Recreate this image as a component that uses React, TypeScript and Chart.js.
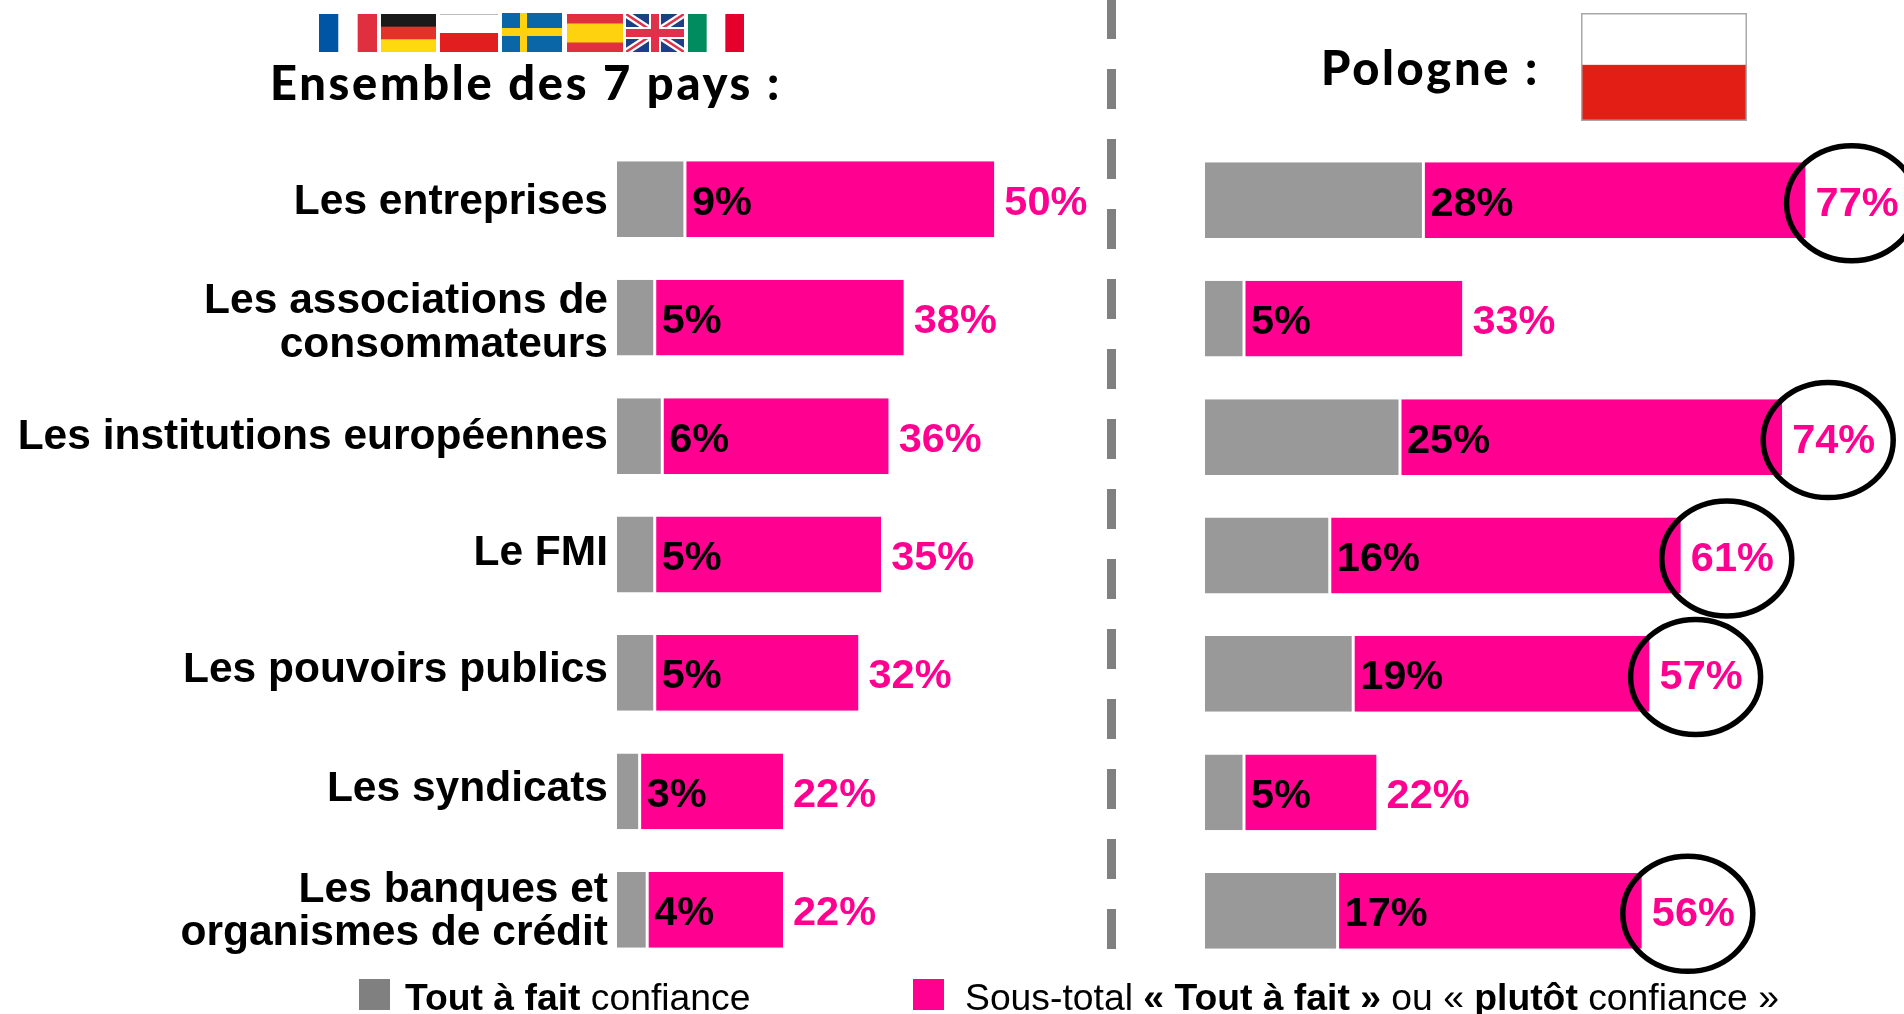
import React, { useEffect, useRef } from "react";
import { Chart, registerables } from "chart.js";

Chart.register(...registerables);

const categories: (string | string[])[] = [
  "Les entreprises",
  ["Les associations de", "consommateurs"],
  "Les institutions européennes",
  "Le FMI",
  "Les pouvoirs publics",
  "Les syndicats",
  ["Les banques et", "organismes de crédit"],
];
const overallTop = [9, 5, 6, 5, 5, 3, 4];
const overallTotal = [50, 38, 36, 35, 32, 22, 22];
const polandTop = [28, 5, 25, 16, 19, 5, 17];
const polandTotal = [77, 33, 74, 61, 57, 22, 56];
const circledPoland = [0, 2, 3, 4, 6];

const GREY = "#999999";
const PINK = "#FF0090";
const FONT = '"Liberation Sans", Arial, sans-serif';
const TITLE_FONT = 'Lato, sans-serif';
const TICK_LABEL_SHIFT = [2.5, 5, 0, -2.5, -3.5, -3.5, 1];

function makeChart(
  canvas: HTMLCanvasElement,
  top: number[],
  total: number[],
  xMax: number,
  withAxis: boolean,
  circled: number[],
  axisWidth: number,
  padTop: number,
  padBottom: number
) {
  const labelsPlugin = {
    id: "valueLabels",
    afterDatasetsDraw(chart: any) {
      const { ctx, scales } = chart;
      ctx.save();
      ctx.font = `bold 41.5px ${FONT}`;
      ctx.textBaseline = "middle";
      ctx.textAlign = "left";
      categories.forEach((_, i) => {
        const y = scales.y.getPixelForValue(i) + 4;
        ctx.fillStyle = "#000";
        ctx.fillText(`${top[i]}%`, scales.x.getPixelForValue(top[i]) + 7, y);
        ctx.fillStyle = PINK;
        ctx.fillText(`${total[i]}%`, scales.x.getPixelForValue(total[i]) + 10, y);
      });
      ctx.strokeStyle = "#000";
      ctx.lineWidth = 5.5;
      circled.forEach((i) => {
        ctx.beginPath();
        ctx.ellipse(
          scales.x.getPixelForValue(total[i]) + 46,
          scales.y.getPixelForValue(i) + 3,
          65,
          57.5,
          0,
          0,
          Math.PI * 2
        );
        ctx.stroke();
      });
      ctx.restore();
    },
  };

  return new Chart(canvas, {
    type: "bar",
    data: {
      labels: categories as any,
      datasets: [
        {
          label: "Tout à fait confiance",
          data: top,
          backgroundColor: GREY,
          borderColor: "#fff",
          borderWidth: { right: 1.5 } as any,
          borderSkipped: false,
        },
        {
          label: "Sous-total « Tout à fait » ou « plutôt confiance »",
          data: total.map((v, i) => v - top[i]),
          backgroundColor: PINK,
          borderColor: "#fff",
          borderWidth: { left: 1.5 } as any,
          borderSkipped: false,
        },
      ],
    },
    options: {
      indexAxis: "y",
      responsive: false,
      animation: false,
      events: [],
      layout: { padding: { top: padTop, bottom: padBottom, left: 0, right: 0 } },
      datasets: { bar: { barPercentage: 0.64, categoryPercentage: 1 } },
      plugins: { legend: { display: false }, tooltip: { enabled: false }, title: { display: false } },
      scales: {
        x: { stacked: true, display: false, min: 0, max: xMax, grid: { display: false } },
        y: {
          stacked: true,
          display: withAxis,
          grid: { display: false, drawBorder: false },
          border: { display: false },
          afterFit(s: any) {
            if (withAxis) s.width = axisWidth;
          },
          afterUpdate(s: any) {
            if (!withAxis || s.__shifted) return;
            s.__shifted = true;
            const original = s.getLabelItems.bind(s);
            s.getLabelItems = (area: any) =>
              original(area).map((item: any, i: number) => ({
                ...item,
                options: {
                  ...item.options,
                  translation: [item.options.translation[0], item.options.translation[1] + TICK_LABEL_SHIFT[i]],
                },
              }));
          },
          ticks: {
            color: "#000",
            padding: 1,
            labelOffset: 1,
            autoSkip: false,
            font: { family: FONT, weight: "bold", size: 42.5, lineHeight: 1.03 },
          },
        },
      },
    } as any,
    plugins: [labelsPlugin],
  });
}

const abs = (left: number, top: number, extra: React.CSSProperties = {}): React.CSSProperties => ({
  position: "absolute",
  left,
  top,
  ...extra,
});

function Flag({ x, y, w, h, children }: { x: number; y: number; w: number; h: number; children: React.ReactNode }) {
  return (
    <svg style={abs(x, y)} width={w} height={h} viewBox={`0 0 ${w} ${h}`} preserveAspectRatio="none">
      {children}
    </svg>
  );
}

const Vert = ({ w, h, c }: { w: number; h: number; c: string[] }) => (
  <>
    {c.map((col, i) => (
      <rect key={i} x={(i * w) / 3} y={0} width={w / 3 + 0.5} height={h} fill={col} />
    ))}
  </>
);
const Horiz = ({ w, h, c, r }: { w: number; h: number; c: string[]; r?: number[] }) => {
  const rs = r || c.map(() => 1 / c.length);
  let acc = 0;
  return (
    <>
      {c.map((col, i) => {
        const el = <rect key={i} x={0} y={acc * h} width={w} height={rs[i] * h + 0.5} fill={col} />;
        acc += rs[i];
        return el;
      })}
    </>
  );
};

export default function App() {
  const leftRef = useRef<HTMLCanvasElement>(null);
  const rightRef = useRef<HTMLCanvasElement>(null);

  useEffect(() => {
    const a = makeChart(leftRef.current!, overallTop, overallTotal, 64, true, [], 617, 140, 45);
    const b = makeChart(rightRef.current!, polandTop, polandTotal, 699 / 7.8, false, circledPoland, 0, 141, 44);
    return () => {
      a.destroy();
      b.destroy();
    };
  }, []);

  const legendText: React.CSSProperties = {
    fontFamily: FONT,
    fontSize: 37.3,
    lineHeight: "40px",
    color: "#000",
    whiteSpace: "nowrap",
  };
  const titleText: React.CSSProperties = {
    fontFamily: TITLE_FONT,
    fontWeight: 900,
    fontSize: 47,
    lineHeight: "56px",
    letterSpacing: 2.7,
    whiteSpace: "nowrap",
    color: "#000",
  };

  return (
    <div style={{ position: "fixed", left: 0, top: 0, width: 1904, height: 1014, overflow: "hidden", background: "#fff" }}>
      <canvas ref={leftRef} width={1100} height={1014} style={abs(0, 0, { width: 1100, height: 1014 })} />
      <canvas ref={rightRef} width={699} height={1014} style={abs(1205, 0, { width: 699, height: 1014 })} />

      <div
        style={abs(1107, -1, {
          width: 9,
          height: 950,
          background: "repeating-linear-gradient(to bottom, #808080 0, #808080 40px, transparent 40px, transparent 70px)",
        })}
      />

      <Flag x={319} y={14} w={58} h={38}><Vert w={58} h={38} c={["#0055A4", "#FFFFFF", "#E03040"]} /></Flag>
      <Flag x={381} y={14} w={55} h={38}><Horiz w={55} h={38} c={["#1A1A1A", "#E5312A", "#FFD90F"]} /></Flag>
      <Flag x={440} y={14} w={58} h={38}>
        <Horiz w={58} h={38} c={["#FFFFFF", "#E31E1E"]} />
        <rect x={0} y={0} width={58} height={1} fill="#BBBBBB" />
      </Flag>
      <Flag x={502} y={13} w={60} h={39}>
        <rect width={60} height={39} fill="#0B66A8" />
        <rect x={18} width={7} height={39} fill="#FFD20F" />
        <rect y={15} width={60} height={8} fill="#FFD20F" />
      </Flag>
      <Flag x={567} y={14} w={56} h={38}><Horiz w={56} h={38} c={["#E03040", "#FFD20F", "#E03040"]} r={[0.25, 0.5, 0.25]} /></Flag>
      <Flag x={626} y={14} w={58} h={38}>
        <rect width={58} height={38} fill="#1C3F85" />
        <path d="M0 0L58 38M58 0L0 38" stroke="#FFFFFF" strokeWidth={7} />
        <path d="M0 0L58 38M58 0L0 38" stroke="#E0304A" strokeWidth={2.5} />
        <rect x={23} width={12} height={38} fill="#FFFFFF" />
        <rect y={13} width={58} height={12} fill="#FFFFFF" />
        <rect x={25} width={8} height={38} fill="#E0304A" />
        <rect y={15} width={58} height={8} fill="#E0304A" />
      </Flag>
      <Flag x={688} y={14} w={56} h={38}><Vert w={56} h={38} c={["#008C5F", "#FFFFFF", "#E4002B"]} /></Flag>
      <Flag x={1581} y={13} w={166} h={108}>
        <Horiz w={166} h={108} c={["#FFFFFF", "#E31E14"]} r={[0.48, 0.52]} />
        <rect x={0.75} y={0.75} width={164.5} height={106.5} fill="none" stroke="#A8A8A8" strokeWidth={1.5} />
      </Flag>

      <div style={abs(270, 54, titleText)}>Ensemble des 7 pays :</div>
      <div style={abs(1321, 39, titleText)}>Pologne :</div>

      <div style={abs(359, 979, { width: 31, height: 31, background: "#808080" })} />
      <div style={abs(405, 977, legendText)}>
        <b>Tout à fait</b> confiance
      </div>
      <div style={abs(913, 979, { width: 31, height: 31, background: PINK })} />
      <div style={abs(965, 977, legendText)}>
        Sous-total <b>« Tout à fait »</b> ou « <b>plutôt</b> confiance »
      </div>
    </div>
  );
}
